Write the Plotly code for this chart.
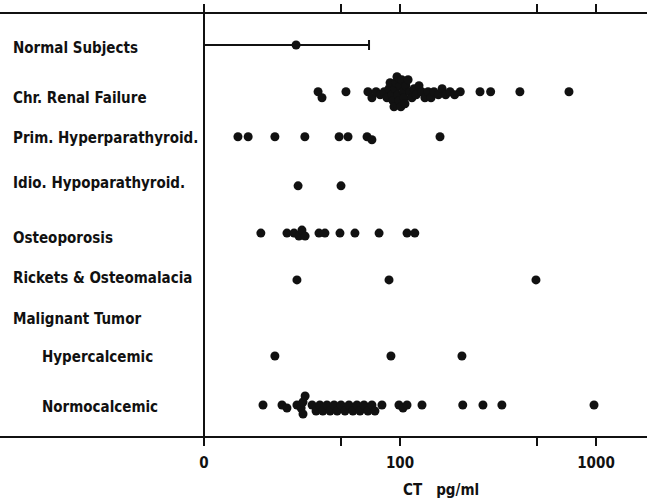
import numpy as np
import plotly.graph_objects as go

# ---------------- data ----------------
categories = ["Normal Subjects", "Chr. Renal Failure", "Prim. Hyperparathyroid.",
              "Idio. Hypoparathyroid.", "Osteoporosis", "Rickets & Osteomalacia",
              "Malignant Tumor", "Hypercalcemic", "Normocalcemic"]
indented = [False, False, False, False, False, False, False, True, True]

normal_mean = [29.5]
normal_low = [10.0]
normal_high = [69.5]

renal = [38.2, 40.0, 53, 68.6, 71.9, 75.5, 79.2, 83.1, 85.8, 87.9, 89.0, 91.0, 92.1,
         93.2, 94.3, 95.4, 96.5, 97.6, 98.8, 100, 101, 102, 104, 105, 106, 107, 110,
         112, 115, 118, 121, 125, 129, 134, 139, 144, 149, 157, 164, 171, 180, 190,
         203, 256, 290, 409, 728]
prim_hyper = [14.9, 16.8, 23.0, 32.7, 48.9, 54.3, 67.9, 71.9, 160]
idio_hypo = [30.2, 50.0]
osteoporosis = [19.5, 26.5, 28.8, 30.5, 31.6, 32.8, 38.6, 41.4, 49.4, 58.9, 78.2, 108.6, 119]
rickets = [29.8, 87.9, 494]
malignant = []
hypercalcemic = [23.0, 89.9, 207]
normocalcemic = [20.0, 25.0, 26.5, 29.8, 31.3, 32.0, 32.0, 32.8, 35.6, 37.3, 39.0, 40.4,
                 42.4, 44.0, 46.1, 47.8, 50.0, 52.4, 54.9, 57.5, 60.3, 62.5, 65.5, 68.6,
                 71.9, 74.5, 80.9, 98.8, 103.6, 108.6, 129.5, 209, 265, 331, 977]

series = [None, renal, prim_hyper, idio_hypo, osteoporosis, rickets, malignant,
          hypercalcemic, normocalcemic]

tick_vals = [10, 50, 100, 500, 1000]
tick_text = ["0", "", "100", "", "1000"]

# ---------------- layout helpers ----------------
row_y = [0, 1.04, 2.04, 3.13, 4.18, 5.22, 6.09, 6.91, 8.0]
label_y = [0.07, 1.17, 2.07, 3.06, 4.29, 5.18, 6.09, 6.93, 8.04]
PX_PER_DECADE = 196.0
PX_PER_ROW = 45.0


def swarm_offsets(vals, min_d=5.0, step=3.0):
    xs = PX_PER_DECADE * np.log10(np.asarray(vals, dtype=float))
    order = np.argsort(xs, kind="stable")
    placed = []
    offs = np.zeros(len(xs))
    ks = [0]
    for k in range(1, 6):
        ks += [k, -k]
    for i in order:
        best = None
        for k in ks:
            oy = k * step
            if all((xs[i] - px) ** 2 + (oy - py) ** 2 >= min_d ** 2 for px, py in placed):
                best = oy
                break
        if best is None:
            best = ks[len(placed) % len(ks)] * step
        placed.append((xs[i], best))
        offs[i] = best
    return offs / PX_PER_ROW


fig = go.Figure()

# normal subjects: mean with range bar
fig.add_trace(go.Scatter(
    x=normal_mean, y=[row_y[0]], mode="markers",
    marker=dict(size=9, color="#111"),
    error_x=dict(type="data", symmetric=False,
                 array=[normal_high[0] - normal_mean[0]],
                 arrayminus=[normal_mean[0] - normal_low[0]],
                 color="#111", thickness=2, width=5),
    showlegend=False, hoverinfo="x"))

xs_all, ys_all = [], []
for idx, vals in enumerate(series):
    if not vals:
        continue
    offs = swarm_offsets(vals)
    xs_all += list(vals)
    ys_all += list(row_y[idx] + offs)

fig.add_trace(go.Scatter(x=xs_all, y=ys_all, mode="markers",
                         marker=dict(size=9, color="#111"),
                         showlegend=False, hoverinfo="x"))

FONT = "DejaVu Sans Condensed, Liberation Sans Narrow, sans-serif"

for idx, name in enumerate(categories):
    fig.add_annotation(x=(40 if indented[idx] else 11) / 647, xref="paper",
                       y=label_y[idx], yref="y", text="<b>" + name + "</b>",
                       showarrow=False, xanchor="left", yanchor="middle",
                       font=dict(family=FONT, size=15, color="#111"))

fig.add_annotation(x=441 / 647, xref="paper", y=-0.128, yref="paper",
                   text="<b>CT\u00a0\u00a0\u00a0pg/ml</b>", showarrow=False,
                   xanchor="center", yanchor="middle",
                   font=dict(family=FONT, size=15, color="#111"))

# vertical axis line at the 0 (=10) position
fig.add_shape(type="line", x0=10, x1=10, xref="x", y0=0, y1=1, yref="paper",
              line=dict(color="#111", width=2))

lo = 1 - 204 / PX_PER_DECADE
hi = 1 + (647 - 204) / PX_PER_DECADE
ytop = (14 - 45) / PX_PER_ROW
ybot = (436 - 45) / PX_PER_ROW

fig.update_layout(
    width=647, height=502,
    margin=dict(l=0, r=0, t=14, b=66),
    paper_bgcolor="white", plot_bgcolor="white",
    xaxis=dict(type="log", range=[lo, hi], tickvals=tick_vals,
               ticktext=["<b>" + t + "</b>" if t else t for t in tick_text],
               showline=True, linecolor="#111", linewidth=2, mirror="ticks",
               ticks="outside", ticklen=8, tickwidth=2, tickcolor="#111",
               showgrid=False, zeroline=False, ticklabelstandoff=4,
               tickfont=dict(family=FONT, size=15, color="#111")),
    yaxis=dict(range=[ybot, ytop], visible=False, showgrid=False, zeroline=False),
)

fig.write_html("out.html")
